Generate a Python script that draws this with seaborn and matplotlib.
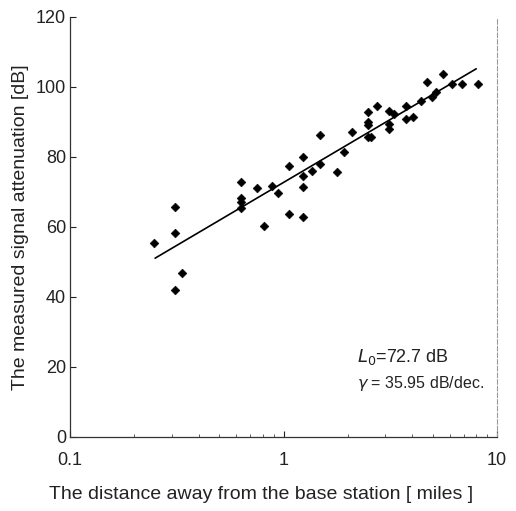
import numpy as np
import pandas as pd
import matplotlib
matplotlib.use("Agg")
import matplotlib.pyplot as plt
import seaborn as sns

# Measured attenuation samples: distance [miles] and loss [dB]
distance = [0.247, 0.31, 0.31, 0.334, 0.31,
            0.63, 0.63, 0.63, 0.63, 0.75, 0.81, 0.88, 0.94,
            1.06, 1.06, 1.23, 1.23, 1.23, 1.23, 1.36, 1.48, 1.48,
            1.79, 1.91, 2.10, 2.48, 2.48, 2.48, 2.48, 2.58, 2.73,
            3.13, 3.30, 3.13, 3.13, 3.74, 3.74, 4.06, 4.40, 4.69,
            4.95, 5.17, 5.57, 6.17, 6.84, 8.15]
attenuation = [55.4, 65.7, 58.3, 46.9, 42.0,
               72.7, 68.2, 67.2, 65.3, 71.2, 60.3, 71.7, 69.6,
               77.4, 63.6, 80.1, 74.4, 71.5, 62.7, 76.1, 86.2, 78.0,
               75.6, 81.3, 87.1, 92.8, 90.1, 89.1, 85.8, 85.8, 94.4,
               93.0, 92.3, 89.4, 87.9, 94.6, 90.8, 91.5, 96.1, 101.3,
               97.2, 98.4, 103.7, 100.7, 100.9, 100.9]

# Log-distance path loss fit
L0 = 72.7       # dB at 1 mile
gamma = 35.95   # dB per decade
fit_range = [0.25, 8.0]

xticks = [0.1, 1, 10]
xtick_labels = ["0.1", "1", "10"]
yticks = [0, 20, 40, 60, 80, 100, 120]

sns.set_theme(style="white")
plt.rcParams["font.family"] = ["Liberation Sans", "DejaVu Sans"]

fig = plt.figure(figsize=(5.16, 5.11), dpi=100)
ax = fig.add_axes([0.136, 0.145, 0.827, 0.822])

df = pd.DataFrame({"d": distance, "L": attenuation})
sns.scatterplot(data=df, x="d", y="L", marker="D", s=20, color="black",
                edgecolor="black", linewidth=0.4, ax=ax, zorder=3)

d_fit = np.logspace(np.log10(fit_range[0]), np.log10(fit_range[1]), 100)
fit = pd.DataFrame({"d": d_fit, "L": L0 + gamma * np.log10(d_fit)})
sns.lineplot(data=fit, x="d", y="L", color="black", linewidth=1.2, ax=ax)

ax.set_xscale("log")
ax.set_xlim(0.1, 10)
ax.set_ylim(0, 120)
ax.set_xticks(xticks)
ax.set_xticklabels(xtick_labels)
ax.set_yticks(yticks)

ax.tick_params(axis="both", which="major", direction="in", length=4,
               width=0.8, labelsize=13, colors="#222222",
               bottom=True, left=True)
ax.tick_params(axis="x", which="major", pad=11)
ax.tick_params(axis="y", which="major", pad=3)
ax.tick_params(axis="x", which="minor", direction="in", length=2.5,
               width=0.6, bottom=True, colors="#444444")

for side in ["left", "bottom"]:
    ax.spines[side].set_color("#333333")
    ax.spines[side].set_linewidth(0.9)
ax.spines["top"].set_visible(False)
ax.spines["right"].set_color("#9a9a9a")
ax.spines["right"].set_linewidth(0.8)
ax.spines["right"].set_linestyle((0, (4, 2)))

ax.set_xlabel("The distance away from the base station [ miles ]",
              fontsize=14, color="#222222")
ax.xaxis.set_label_coords(0.447, -0.118)
ax.set_ylabel("The measured signal attenuation [dB]",
              fontsize=14, color="#222222", labelpad=5)

ax.text(0.672, 0.19, r"$L_0$=72.7 dB", transform=ax.transAxes,
        fontsize=13, color="#222222", va="center")
ax.text(0.672, 0.128, r"$\gamma$ = 35.95 dB/dec.", transform=ax.transAxes,
        fontsize=11.5, color="#222222", va="center")

fig.savefig("out.png", dpi=100)
